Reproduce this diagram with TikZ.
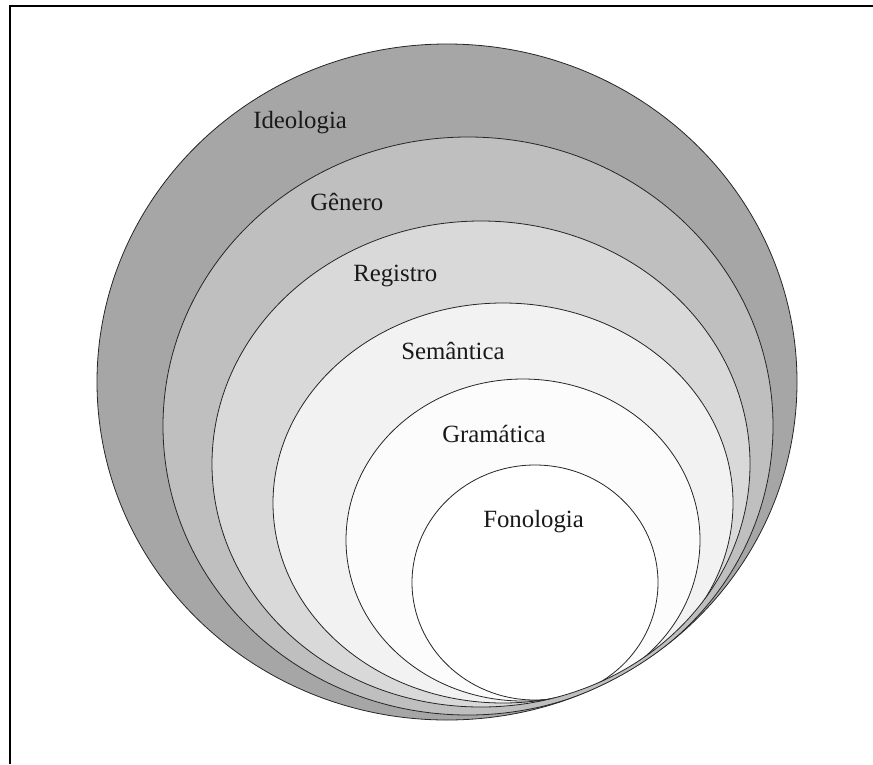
\documentclass[tikz,border=0pt]{standalone}
\usepackage{fontspec}
\setmainfont{Liberation Serif}
\definecolor{lvA}{HTML}{A6A6A6}
\definecolor{lvB}{HTML}{BFBFBF}
\definecolor{lvC}{HTML}{D9D9D9}
\definecolor{lvD}{HTML}{F2F2F2}
\definecolor{lvE}{HTML}{FCFCFC}
\definecolor{lvF}{HTML}{FFFFFF}
\tikzset{
  layer/.style={draw=black!85, line width=0.6pt},
  lbl/.style={anchor=base west, inner sep=0pt, font=\fontsize{18.6pt}{22pt}\selectfont, text=black!90},
  frameline/.style={line width=1.5pt, black},
  % outlines of the six levels, outermost first
  pA/.style={insert path={(447,382) ellipse [x radius=350, y radius=338]}},
  pB/.style={insert path={(468,426) ellipse [x radius=305, y radius=289]}},
  pC/.style={insert path={(481,464) ellipse [x radius=269, y radius=243]}},
  pD/.style={insert path={(503,503) ellipse [x radius=230, y radius=200]}},
  pE/.style={insert path={(523,540) ellipse [x radius=177, y radius=161]}},
  pF/.style={insert path={(535,582.5) ellipse [x radius=123, y radius=117.5]}}
}
\begin{document}
\begin{tikzpicture}[x=0.75pt,y=-0.75pt]
\useasboundingbox (0,0) rectangle (873,764);
% frame edges
\draw[frameline] (10,764) -- (10,6) -- (873,6);
% fills: each level kept inside the one around it
\fill[lvA, pA];
\begin{scope}
  \clip[pA];
  \fill[lvB, pB];
  \begin{scope}
    \clip[pB];
    \fill[lvC, pC];
    \begin{scope}
      \clip[pC];
      \fill[lvD, pD];
      \begin{scope}
        \clip[pD];
        \fill[lvE, pE];
        \begin{scope}
          \clip[pE];
          \fill[lvF, pF];
        \end{scope}
      \end{scope}
    \end{scope}
  \end{scope}
\end{scope}
% outlines, nested the same way
\draw[layer, pA];
\begin{scope}
  \clip[pA];
  \draw[layer, pB];
  \begin{scope}
    \clip[pB];
    \draw[layer, pC];
    \begin{scope}
      \clip[pC];
      \draw[layer, pD];
      \begin{scope}
        \clip[pD];
        \draw[layer, pE];
        \begin{scope}
          \clip[pE];
          \draw[layer, pF];
        \end{scope}
      \end{scope}
    \end{scope}
  \end{scope}
\end{scope}
% labels
\node[lbl] (ideo) at (253,128) {Ideologia};
\node[lbl] (gen) at (310,210) {Gênero};
\node[lbl] (reg) at (353,281) {Registro};
\node[lbl] (sem) at (401,359) {Semântica};
\node[lbl] (gram) at (442,442) {Gramática};
\node[lbl] (fon) at (483,527) {Fonologia};
\end{tikzpicture}
\end{document}
